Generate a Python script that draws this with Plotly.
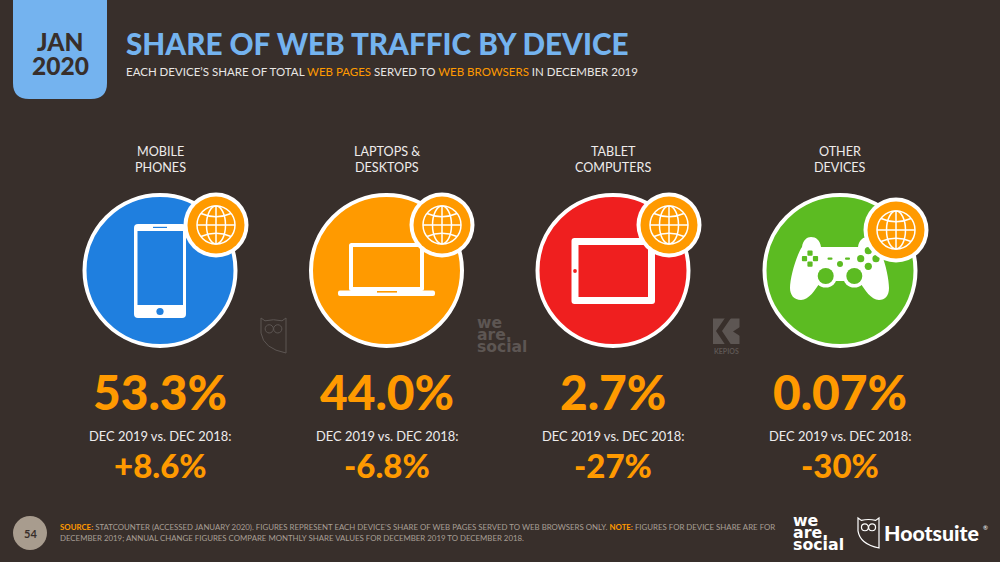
import plotly.graph_objects as go

# data
device_lines = [["MOBILE", "PHONES"], ["LAPTOPS &", "DESKTOPS"], ["TABLET", "COMPUTERS"], ["OTHER", "DEVICES"]]
share_labels = ["53.3%", "44.0%", "2.7%", "0.07%"]
change_labels = ["+8.6%", "-6.8%", "-27%", "-30%"]
circle_colors = ["#1f7fdf", "#ff9a00", "#ef1f1f", "#5cbb22"]
compare_label = "DEC 2019 vs. DEC 2018:"
page_number = "54"

BG = "#382f2b"
ORANGE = "#ff9a00"
TITLE_BLUE = "#74b3ef"
WHITE = "#ffffff"
MARK = "#5d5653"
FONT = "Lato"
LOGO_FONT = "DejaVu Sans"

centers = [160, 386.5, 613, 840]
circle_y = 270.5
badges = [(216, 225), (442, 225), (669, 225), (896, 230)]

fig = go.Figure()
shapes = []
notes = []


def text(x, y, s, size, color=WHITE, weight=400, anchor="center", font=FONT):
    d = dict(x=x, y=y, text=s, showarrow=False, xanchor=anchor, yanchor="middle",
             font=dict(family=font, size=size, color=color, weight=weight),
             xref="x", yref="y", align="left" if anchor == "left" else "center")
    notes.append(d)


def rect(x0, y0, x1, y1, color):
    shapes.append(dict(type="rect", x0=x0, y0=y0, x1=x1, y1=y1, fillcolor=color, line_width=0))


def rrect(x0, y0, x1, y1, r, color):
    p = (f"M{x0+r},{y0} L{x1-r},{y0} Q{x1},{y0} {x1},{y0+r} L{x1},{y1-r} Q{x1},{y1} {x1-r},{y1} "
         f"L{x0+r},{y1} Q{x0},{y1} {x0},{y1-r} L{x0},{y0+r} Q{x0},{y0} {x0+r},{y0} Z")
    shapes.append(dict(type="path", path=p, fillcolor=color, line_width=0))


def circle(cx, cy, r, fill, line=None, lw=0):
    shapes.append(dict(type="circle", x0=cx-r, y0=cy-r, x1=cx+r, y1=cy+r, fillcolor=fill,
                       line=dict(color=line or fill, width=lw)))


def path(p, fill=None, line=None, lw=0):
    d = dict(type="path", path=p, line=dict(color=line or "rgba(0,0,0,0)", width=lw))
    d["fillcolor"] = fill if fill else "rgba(0,0,0,0)"
    shapes.append(d)


def globe(cx, cy):
    circle(cx, cy, 32.5, WHITE)
    circle(cx, cy, 28.5, ORANGE)
    r = 19
    lw = 1.5
    shapes.append(dict(type="circle", x0=cx-r, y0=cy-r, x1=cx+r, y1=cy+r, fillcolor="rgba(0,0,0,0)",
                       line=dict(color=WHITE, width=lw)))
    shapes.append(dict(type="circle", x0=cx-9.5, y0=cy-r, x1=cx+9.5, y1=cy+r, fillcolor="rgba(0,0,0,0)",
                       line=dict(color=WHITE, width=lw)))
    path(f"M{cx},{cy-r} L{cx},{cy+r}", line=WHITE, lw=lw)
    path(f"M{cx-r},{cy} L{cx+r},{cy}", line=WHITE, lw=lw)
    path(f"M{cx-15},{cy-11.5} Q{cx},{cy-5} {cx+15},{cy-11.5}", line=WHITE, lw=lw)
    path(f"M{cx-15},{cy+11.5} Q{cx},{cy+5} {cx+15},{cy+11.5}", line=WHITE, lw=lw)


def owl(x0, y0, w, h, color, lw):
    # outline sized to the box, eyes sit in the top third
    path(f"M{x0},{y0} L{x0+w*0.16},{y0+h*0.08} Q{x0+w*0.5},{y0+h*0.02} {x0+w*0.84},{y0+h*0.08} "
         f"L{x0+w},{y0} L{x0+w},{y0+h} Q{x0+w*0.1},{y0+h*0.88} {x0},{y0+h*0.43} Z", line=color, lw=lw)
    er = w * 0.165
    circle(x0 + w*0.33, y0 + h*0.31, er, "rgba(0,0,0,0)", line=color, lw=lw)
    circle(x0 + w*0.67, y0 + h*0.31, er, "rgba(0,0,0,0)", line=color, lw=lw)


# header tab
path("M13,0 L107,0 L107,83 Q107,99 91,99 L29,99 Q13,99 13,83 Z", fill=TITLE_BLUE)
text(60, 41, "JAN", 24.5, color=BG, weight=900)
text(60, 65, "2020", 24.5, color=BG, weight=900)
text(124, 43, "SHARE OF WEB TRAFFIC BY DEVICE", 29.7, color=TITLE_BLUE, weight=900, anchor="left")
text(124, 71, "EACH DEVICE’S SHARE OF TOTAL <span style=\"color:#ff9a00\">WEB PAGES</span> SERVED TO "
     "<span style=\"color:#ff9a00\">WEB BROWSERS</span> IN DECEMBER 2019", 11.5, color="#e8e6e4", anchor="left")

# big circles
fig.add_trace(go.Scatter(x=centers, y=[circle_y] * 4, mode="markers", hoverinfo="skip",
                         marker=dict(size=151, color=circle_colors, line=dict(color=WHITE, width=4))))

# phone
rrect(134, 224, 186, 318, 4, WHITE)
rect(137.5, 231, 183, 305, circle_colors[0])
rect(153, 226.8, 167, 228, circle_colors[0])
circle(160, 311.5, 3.6, circle_colors[0])

# laptop
rrect(349, 243, 424, 291, 2.5, WHITE)
rect(353, 247, 420, 287, circle_colors[1])
rrect(338, 290.5, 435, 296, 2, WHITE)
rect(377, 291, 397, 292.6, circle_colors[1])

# tablet
rrect(571.5, 238, 655, 304, 3, WHITE)
rect(578.5, 245, 648, 297, circle_colors[2])
circle(575, 271, 1.9, circle_colors[2])

# game pad
path("M802,247 C803,240 807,237 811,237 C816,237 820,240 821,247 L858,247 C859,240 863,237 868,237 "
     "C873,237 877,240 878,247 C884,256 889,278 889,288 C889,296 885,300 879,300 C871,300 865,290 859,281 "
     "L821,281 C815,290 809,300 801,300 C794,300 790,295 790,288 C790,278 796,256 802,247 Z", fill=WHITE)
circle(825.7, 276, 11.5, WHITE)
circle(854.3, 276, 11.5, WHITE)
circle(825.7, 276, 8, circle_colors[3])
circle(854.3, 276, 8, circle_colors[3])
circle(840, 264, 3, circle_colors[3])
rrect(827.5, 257.5, 832.5, 259.7, 1, circle_colors[3])
rrect(845, 257.5, 850, 259.7, 1, circle_colors[3])
for dx, dy in [(-5.5, 0), (5.5, 0), (0, -5.5), (0, 5.5)]:
    rrect(810 + dx - 2.6, 258.7 + dy - 2.6, 810 + dx + 2.6, 258.7 + dy + 2.6, 1, circle_colors[3])
for bx, by in [(860.7, 258.7), (868.3, 266.3), (876, 258.7), (868.3, 250.7)]:
    circle(bx, by, 3.6, circle_colors[3])

for bx, by in badges:
    globe(bx, by)

# labels per device
for cx, lines, share, change in zip(centers, device_lines, share_labels, change_labels):
    text(cx, 151, lines[0], 12.6, color="#eeeceb")
    text(cx, 167, lines[1], 12.6, color="#eeeceb")
    text(cx, 391, share, 47.8, color=ORANGE, weight=900)
    text(cx, 436, compare_label, 12.9, color="#eeeceb")
    text(cx, 465, change, 33, color=ORANGE, weight=900)

# watermark logos
owl(261, 318, 25, 35, MARK, 1)
text(475, 323, "we", 15.6, color=MARK, weight=700, anchor="left", font=LOGO_FONT)
text(475, 335, "are.", 15.6, color=MARK, weight=700, anchor="left", font=LOGO_FONT)
text(475, 347, "social", 15.6, color=MARK, weight=700, anchor="left", font=LOGO_FONT)
rect(713, 318.5, 739.5, 344, MARK)
path("M725,318 L731,318 L722,331 L731,344.5 L725,344.5 L716,331 Z", fill=BG)
path("M740,327 L733,331.5 L740,336 Z", fill=BG)
text(726, 351, "KEPIOS", 7, color=MARK, weight=700)

# footer
circle(30, 533, 17, "#a89c8e")
text(30, 533, page_number, 11, color=BG, weight=700)
text(58, 527, "<span style=\"color:#ff9a00\"><b>SOURCE:</b></span> STATCOUNTER (ACCESSED JANUARY 2020). FIGURES REPRESENT "
     "EACH DEVICE’S SHARE OF WEB PAGES SERVED TO WEB BROWSERS ONLY. <span style=\"color:#ff9a00\"><b>NOTE:</b></span> "
     "FIGURES FOR DEVICE SHARE ARE FOR", 7.85, color="#a89f96", anchor="left")
text(58, 538, "DECEMBER 2019; ANNUAL CHANGE FIGURES COMPARE MONTHLY SHARE VALUES FOR DECEMBER 2019 TO DECEMBER 2018.",
     7.85, color="#a89f96", anchor="left")
text(791, 520, "we", 15.8, weight=700, anchor="left", font=LOGO_FONT)
text(791, 532, "are.", 15.8, weight=700, anchor="left", font=LOGO_FONT)
text(791, 544, "social", 15.8, weight=700, anchor="left", font=LOGO_FONT)
owl(858, 518, 21, 30, WHITE, 1.2)
text(881.5, 533, "Hootsuite", 21.3, weight=900, anchor="left")
text(981, 527, "®", 6, anchor="left")

fig.update_layout(
    width=1000, height=562, margin=dict(l=0, r=0, t=0, b=0), autosize=False,
    paper_bgcolor=BG, plot_bgcolor=BG, showlegend=False,
    xaxis=dict(range=[0, 1000], visible=False, fixedrange=True),
    yaxis=dict(range=[562, 0], visible=False, fixedrange=True),
    shapes=shapes, annotations=notes,
)

fig.write_html("out.html", config={"displayModeBar": False},
               post_script="document.body.style.margin='0';document.body.style.overflow='hidden';")
